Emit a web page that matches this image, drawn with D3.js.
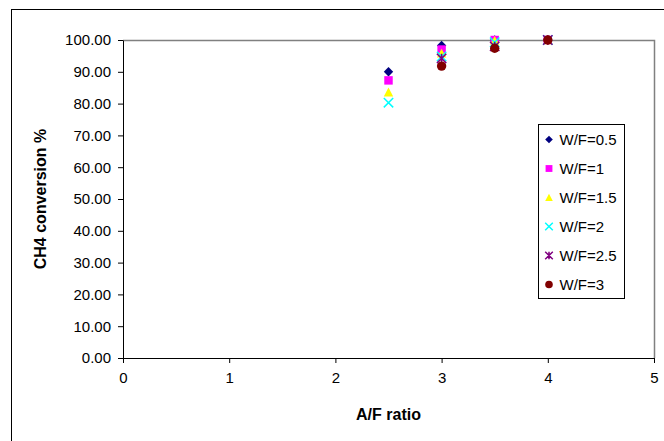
<!DOCTYPE html>
<html>
<head>
<meta charset="utf-8">
<script src="https://cdn.jsdelivr.net/npm/d3@7"></script>
<style>
  body { margin: 0; background: #fff; }
  text { font-family: "Liberation Sans", Arial, sans-serif; }
</style>
</head>
<body>
<script>
// A/F ratio values and CH4 conversion for each W/F series
var afRatio = [2.5, 3, 3.5, 4];
var wf05 = [90.0, 98.3, 100.0, 100.0];
var wf1 = [87.3, 97.0, 100.0, 100.0];
var wf15 = [83.6, 95.8, 99.8, 100.0];
var wf2 = [80.3, 94.8, 99.3, 100.0];
var wf25 = [null, 94.2, 98.0, 100.0];
var wf3 = [null, 91.8, 97.4, 100.0];
var seriesNames = ["W/F=0.5", "W/F=1", "W/F=1.5", "W/F=2", "W/F=2.5", "W/F=3"];
var xTicks = [0, 1, 2, 3, 4, 5];
var yTicks = [0, 10, 20, 30, 40, 50, 60, 70, 80, 90, 100];

var svgWidth = 664;
var svgHeight = 441;
var margin = { top: 40, right: 10, bottom: 83, left: 123 };
var chartWidth = 654 - margin.left;
var chartHeight = 358 - margin.top;

var series = [
  { name: seriesNames[0], values: wf05, color: "#000080", shape: "diamond" },
  { name: seriesNames[1], values: wf1, color: "#ff00ff", shape: "square" },
  { name: seriesNames[2], values: wf15, color: "#ffff00", shape: "triangle" },
  { name: seriesNames[3], values: wf2, color: "#00ffff", shape: "x" },
  { name: seriesNames[4], values: wf25, color: "#800080", shape: "star" },
  { name: seriesNames[5], values: wf3, color: "#800000", shape: "circle" }
];

var svg = d3.select("body").append("svg")
  .attr("width", svgWidth)
  .attr("height", svgHeight);

// outer chart frame
svg.append("rect")
  .attr("x", 11.5).attr("y", 9.5)
  .attr("width", 700).attr("height", 500)
  .attr("fill", "none").attr("stroke", "#000");

var chartGroup = svg.append("g")
  .attr("transform", `translate(${margin.left}, ${margin.top})`);

var xScale = d3.scaleLinear().domain([0, 5]).range([0, chartWidth]);
var yScale = d3.scaleLinear().domain([0, 100]).range([chartHeight, 0]);

// plot area border (gray top/right)
chartGroup.append("path")
  .attr("d", `M0,0.5H${chartWidth + 0.5}V${chartHeight}`)
  .attr("fill", "none").attr("stroke", "#808080").attr("stroke-width", 1.5);

var bottomAxis = d3.axisBottom(xScale).tickValues(xTicks).tickSize(5).tickSizeOuter(0)
  .tickFormat(d3.format("d")).tickPadding(6);
var leftAxis = d3.axisLeft(yScale).tickValues(yTicks).tickSize(5).tickSizeOuter(0)
  .tickFormat(d3.format(".2f")).tickPadding(7);

var xg = chartGroup.append("g")
  .attr("transform", `translate(0, ${chartHeight})`)
  .call(bottomAxis);
var yg = chartGroup.append("g").call(leftAxis);

[xg, yg].forEach(function(g) {
  g.selectAll("path, line").attr("stroke", "#000");
  g.selectAll("text").attr("font-size", 15).attr("fill", "#000")
    .style("font-family", "'Liberation Sans', Arial, sans-serif");
});
xg.selectAll("text").attr("dy", "0.9em");

function markerPath(shape, s) {
  if (shape === "diamond") return `M0,${-s}L${s},0L0,${s}L${-s},0Z`;
  if (shape === "square") return `M${-s * 0.9},${-s * 0.9}H${s * 0.9}V${s * 0.9}H${-s * 0.9}Z`;
  if (shape === "triangle") return `M0,${-s}L${s},${s * 0.9}L${-s},${s * 0.9}Z`;
  if (shape === "x") return `M${-s},${-s}L${s},${s}M${-s},${s}L${s},${-s}`;
  if (shape === "star") return `M${-s},${-s}L${s},${s}M${-s},${s}L${s},${-s}M0,${-s}V${s}`;
  return d3.symbol().type(d3.symbolCircle).size(Math.PI * s * s)();
}

function drawMarker(g, d, s) {
  var line = d.shape === "x" || d.shape === "star";
  g.append("path")
    .attr("d", markerPath(d.shape, s))
    .attr("fill", line ? "none" : d.color)
    .attr("stroke", line ? d.color : "none")
    .attr("stroke-width", line ? 1.5 : 0);
}

series.forEach(function(sr) {
  var pts = afRatio.map(function(x, i) { return { x: x, y: sr.values[i] }; })
    .filter(function(p) { return p.y !== null; });
  pts.forEach(function(p) {
    var g = chartGroup.append("g")
      .attr("transform", `translate(${xScale(p.x)}, ${yScale(p.y)})`);
    drawMarker(g, sr, 4.7);
  });
});

// legend
var legend = svg.append("g").attr("transform", "translate(538.5, 124.5)");
legend.append("rect")
  .attr("width", 86).attr("height", 174)
  .attr("fill", "#fff").attr("stroke", "#000");
series.forEach(function(sr, i) {
  var row = legend.append("g").attr("transform", `translate(0, ${15 + i * 29})`);
  var m = row.append("g").attr("transform", "translate(10.5, 0)");
  drawMarker(m, sr, 3.8);
  row.append("text")
    .attr("x", 21).attr("y", 0).attr("dy", "0.35em")
    .attr("font-size", 15)
    .text(sr.name);
});

// axis titles
chartGroup.append("text")
  .attr("transform", "rotate(-90)")
  .attr("x", -chartHeight / 2)
  .attr("y", 40 - margin.left)
  .attr("dy", "0.35em")
  .attr("text-anchor", "middle")
  .attr("font-size", 16).attr("font-weight", "bold")
  .text("CH4 conversion %");
chartGroup.append("text")
  .attr("x", chartWidth / 2)
  .attr("y", 414 - margin.top)
  .attr("dy", "0.35em")
  .attr("text-anchor", "middle")
  .attr("font-size", 16).attr("font-weight", "bold")
  .text("A/F ratio");
</script>
</body>
</html>
